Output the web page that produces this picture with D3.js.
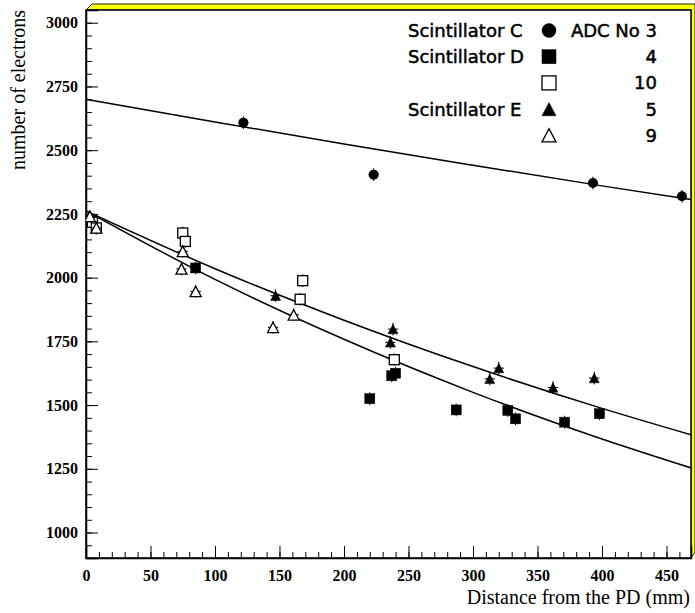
<!DOCTYPE html>
<html>
<head>
<meta charset="utf-8">
<script src="https://cdn.jsdelivr.net/npm/d3@7"></script>
<style>
  body { margin: 0; background: #fff; }
  svg { display: block; }
</style>
</head>
<body>
<svg id="chart"></svg>
<script>
// Scintillator C, ADC No 3 (filled circles)
const cX = [122, 223, 393, 462];
const cY = [2608, 2404, 2371, 2319];

// Scintillator D, ADC No 4 (filled squares)
const d4X = [85, 220, 237, 240, 287, 327, 333, 371, 398];
const d4Y = [2038, 1525, 1615, 1625, 1481, 1479, 1446, 1433, 1466];

// Scintillator D, ADC No 10 (open squares)
const d10X = [5, 8, 75, 77, 166, 168, 239];
const d10Y = [2217, 2195, 2175, 2142, 1915, 1988, 1678];

// Scintillator E, ADC No 5 (filled triangles)
const e5X = [147, 236, 238, 313, 320, 362, 394];
const e5Y = [1929, 1746, 1798, 1603, 1645, 1569, 1606];

// Scintillator E, ADC No 9 (open triangles)
const e9X = [3, 8, 74, 75, 85, 145, 161];
const e9Y = [2240, 2195, 2034, 2103, 1946, 1805, 1854];

// error bars (same for every point)
const errX = 4;
const errY = 25;

// fit curves
const fitX = [0, 100, 200, 300, 400, 470];
const fitC = [2700, 2611, 2524, 2441, 2360, 2306];
const fitD = [2262, 1993, 1758, 1550, 1367, 1252];
const fitE = [2262, 2035, 1833, 1651, 1487, 1382];

const xTicks = [0, 50, 100, 150, 200, 250, 300, 350, 400, 450];
const yTicks = [1000, 1250, 1500, 1750, 2000, 2250, 2500, 2750, 3000];

const legendNames = ["Scintillator C", "Scintillator D", "", "Scintillator E", ""];
const legendAdc = ["ADC No 3", "4", "10", "5", "9"];
const legendSym = ["circle", "square", "osquare", "triangle", "otriangle"];

const width = 695;
const height = 613;
const pLeft = 86, pRight = 691, pTop = 10, pBottom = 558;

const svg = d3.select("#chart").attr("width", width).attr("height", height);

// yellow frame border (top and right, bevelled)
svg.append("polygon")
  .attr("points", `${pLeft},${pTop} ${pLeft + 6},4 695,4 695,${pBottom - 6} ${pRight},${pBottom} ${pRight},${pTop}`)
  .attr("fill", "#ffff00")
  .attr("stroke", "#222")
  .attr("stroke-width", 1);

const x = d3.scaleLinear().domain([0, 469]).range([pLeft, pRight]);
const y = d3.scaleLinear().domain([900, 3050]).range([pBottom, pTop]);

// frame
svg.append("rect")
  .attr("x", pLeft).attr("y", pTop)
  .attr("width", pRight - pLeft).attr("height", pBottom - pTop)
  .attr("fill", "#fff").attr("stroke", "#000").attr("stroke-width", 1.5);

// minor ticks
const minorX = d3.range(0, 470, 10);
const minorY = d3.range(900, 3051, 50);
svg.append("g")
  .attr("transform", `translate(0,${pBottom})`)
  .call(d3.axisBottom(x).tickValues(minorX).tickSize(-6).tickFormat(""))
  .call(g => g.select(".domain").remove());
svg.append("g")
  .attr("transform", `translate(${pLeft},0)`)
  .call(d3.axisLeft(y).tickValues(minorY).tickSize(-6).tickFormat(""))
  .call(g => g.select(".domain").remove());

// major ticks + labels
const xAxis = svg.append("g")
  .attr("transform", `translate(0,${pBottom})`)
  .call(d3.axisBottom(x).tickValues(xTicks).tickSize(-12).tickPadding(8).tickFormat(d3.format("d")));
const yAxis = svg.append("g")
  .attr("transform", `translate(${pLeft},0)`)
  .call(d3.axisLeft(y).tickValues(yTicks).tickSize(-12).tickPadding(8).tickFormat(d3.format("d")));

[xAxis, yAxis].forEach(g => {
  g.select(".domain").attr("stroke-width", 1.5);
  g.selectAll("text")
    .attr("font-family", "Liberation Serif, Times New Roman, serif")
    .attr("font-weight", "bold")
    .attr("font-size", 16)
    .attr("fill", "#000");
});
xAxis.selectAll("text").attr("dy", "0.95em");

// axis titles
svg.append("text")
  .attr("x", 690).attr("y", 604)
  .attr("text-anchor", "end")
  .attr("font-family", "Liberation Serif, Times New Roman, serif")
  .attr("font-size", 20)
  .text("Distance from the PD (mm)");

svg.append("text")
  .attr("transform", "translate(25,10) rotate(-90)")
  .attr("text-anchor", "end")
  .attr("font-family", "Liberation Serif, Times New Roman, serif")
  .attr("font-size", 20)
  .text("number of electrons");

// plot area clip
svg.append("clipPath").attr("id", "plot")
  .append("rect").attr("x", pLeft).attr("y", pTop)
  .attr("width", pRight - pLeft).attr("height", pBottom - pTop);

const plot = svg.append("g").attr("clip-path", "url(#plot)");

// fit curves
const line = d3.line()
  .x((d, i) => x(fitX[i]))
  .y(d => y(d))
  .curve(d3.curveMonotoneX);

[fitC, fitD, fitE].forEach(f => {
  plot.append("path")
    .attr("d", line(f))
    .attr("fill", "none")
    .attr("stroke", "#000")
    .attr("stroke-width", 1.5);
});

// marker drawing
function marker(g, type, cx, cy, s) {
  if (type === "circle") {
    g.append("circle").attr("cx", cx).attr("cy", cy).attr("r", s / 2).attr("fill", "#000");
  } else if (type === "square" || type === "osquare") {
    g.append("rect")
      .attr("x", cx - s / 2).attr("y", cy - s / 2)
      .attr("width", s).attr("height", s)
      .attr("fill", type === "square" ? "#000" : "#fff")
      .attr("stroke", "#000").attr("stroke-width", type === "square" ? 0.5 : 1.3);
  } else {
    const h = s * 0.95;
    g.append("polygon")
      .attr("points", `${cx - s / 2},${cy + h / 2} ${cx + s / 2},${cy + h / 2} ${cx},${cy - h / 2}`)
      .attr("fill", type === "triangle" ? "#000" : "#fff")
      .attr("stroke", "#000").attr("stroke-width", type === "triangle" ? 0.5 : 1.3);
  }
}

const series = [
  { xs: cX, ys: cY, sym: "circle", size: 10 },
  { xs: d4X, ys: d4Y, sym: "square", size: 10 },
  { xs: d10X, ys: d10Y, sym: "osquare", size: 10 },
  { xs: e5X, ys: e5Y, sym: "triangle", size: 10 },
  { xs: e9X, ys: e9Y, sym: "otriangle", size: 11 }
];

series.forEach(s => {
  const g = plot.append("g");
  s.xs.forEach((xv, i) => {
    const yv = s.ys[i];
    g.append("line")
      .attr("x1", x(xv)).attr("x2", x(xv))
      .attr("y1", y(yv - errY)).attr("y2", y(yv + errY))
      .attr("stroke", "#000").attr("stroke-width", 1);
    g.append("line")
      .attr("x1", x(xv - errX)).attr("x2", x(xv + errX))
      .attr("y1", y(yv)).attr("y2", y(yv))
      .attr("stroke", "#000").attr("stroke-width", 1);
  });
  s.xs.forEach((xv, i) => marker(g, s.sym, x(xv), y(s.ys[i]), s.size));
});

// legend
const legend = svg.append("g")
  .attr("font-family", "DejaVu Sans, sans-serif")
  .attr("font-size", 18)
  .attr("fill", "#000")
  .attr("stroke", "#000")
  .attr("stroke-width", 0.5);

legendSym.forEach((sym, i) => {
  const base = 37 + i * 26.2;
  if (legendNames[i]) {
    legend.append("text").attr("x", 408).attr("y", base).text(legendNames[i]);
  }
  legend.append("text").attr("x", 657).attr("y", base)
    .attr("text-anchor", "end").text(legendAdc[i]);
  marker(legend, sym, 549, base - 6.5, 14);
});
</script>
</body>
</html>
